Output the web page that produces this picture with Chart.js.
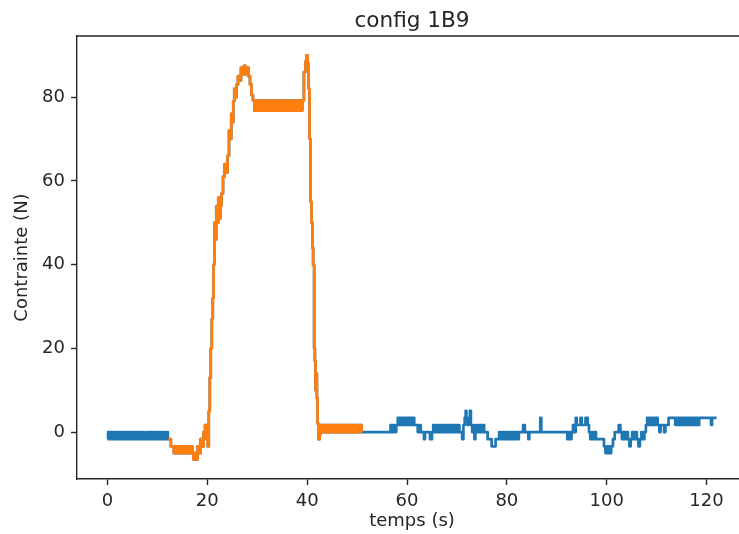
<!DOCTYPE html>
<html>
<head>
<meta charset="utf-8">
<script src="https://cdn.jsdelivr.net/npm/chart.js@4.4.1/dist/chart.umd.min.js"></script>
<style>
  html, body { margin: 0; padding: 0; background: #fff; overflow: hidden; }
</style>
</head>
<body>
<canvas id="chart" width="739" height="534"></canvas>
<script>
// Relevé de la contrainte : [temps (s), contrainte (N)]
// début (repos), appui (partie en orange), fin (repos)
const debut = [
  [0, -1.7], [0.25, 0], [0.5, -1.7], [0.75, 0], [1, -1.7], [1.25, 0], [1.5, -1.7], [1.75, 0],
  [2, -1.7], [2.25, 0], [2.5, -1.7], [2.75, 0], [3, -1.7], [3.25, 0], [3.5, -1.7], [3.75, 0],
  [4, -1.7], [4.25, 0], [4.5, -1.7], [4.75, 0], [5, -1.7], [5.25, 0], [5.5, -1.7], [5.75, 0],
  [6, -1.7], [6.25, 0], [6.5, -1.7], [6.75, 0], [7, -1.7], [7.25, 0], [7.5, -1.7], [7.75, -1.7],
  [8, 0], [8.25, -1.7], [8.5, 0], [8.75, -1.7], [9, 0], [9.25, -1.7], [9.5, 0], [9.75, -1.7],
  [10, 0], [10.25, -1.7], [10.5, 0], [10.75, -1.7], [11, 0], [11.25, -1.7], [11.5, 0],
  [11.75, -1.7], [12, 0], [12.2, -1.7]
];
const appui = [
  [12.2, -1.7], [12.6, -1.7], [12.8, -3.4], [13.2, -3.4],
  [13.4, -5], [13.65, -3.4], [13.9, -5], [14.15, -3.4], [14.4, -5], [14.65, -5], [14.9, -3.4],
  [15.15, -5], [15.4, -3.4], [15.65, -5], [15.9, -3.4], [16.15, -5], [16.4, -3.4], [16.65, -5],
  [16.9, -3.4], [17.1, -5],
  [17.3, -6.5], [17.6, -5], [17.9, -6.5], [18.2, -3.4], [18.5, -5], [18.8, -1.7], [19.1, -3.4],
  [19.4, 0], [19.7, 1.7], [20, -1.7], [20.2, -3.4], [20.4, 5], [20.6, 13], [20.8, 20],
  [21, 27], [21.2, 32], [21.35, 40], [21.5, 50], [21.7, 46], [21.9, 54], [22.1, 50], [22.3, 56],
  [22.5, 51], [22.7, 54], [23, 57], [23.3, 61], [23.6, 64], [23.9, 62], [24.2, 66], [24.5, 72],
  [24.7, 70], [24.9, 76], [25.1, 74], [25.3, 79], [25.5, 82], [25.7, 80], [26, 83], [26.3, 85],
  [26.6, 84], [26.9, 87], [27.2, 85.5], [27.5, 87.5], [27.8, 85.5], [28.1, 87], [28.4, 85],
  [28.7, 83], [29, 80.5], [29.3, 79.2],
  [29.6, 76.8], [29.85, 79.2], [30.1, 76.8], [30.35, 79.2], [30.6, 76.8], [30.85, 79.2],
  [31.1, 76.8], [31.35, 79.2], [31.6, 76.8], [31.85, 79.2], [32.1, 76.8], [32.35, 79.2],
  [32.6, 76.8], [32.85, 79.2], [33.1, 76.8], [33.35, 79.2], [33.6, 76.8], [33.85, 79.2],
  [34.1, 76.8], [34.35, 79.2], [34.6, 76.8], [34.85, 79.2], [35.1, 76.8], [35.35, 79.2],
  [35.6, 76.8], [35.85, 79.2], [36.1, 76.8], [36.35, 79.2], [36.6, 76.8], [36.85, 79.2],
  [37.1, 79.2], [37.35, 76.8], [37.6, 79.2], [37.85, 76.8], [38.1, 79.2], [38.35, 76.8],
  [38.6, 79.2], [38.85, 76.8], [39.2, 79.2],
  [39.5, 86], [39.8, 88.5], [40, 90], [40.2, 88], [40.4, 82], [40.6, 70], [40.8, 55], [41, 50],
  [41.1, 44], [41.3, 40], [41.5, 20], [41.6, 17], [41.75, 10], [41.9, 14], [42, 8], [42.2, 2],
  [42.4, -1.7], [42.6, -0.5], [42.8, 1.7],
  [43.05, 0], [43.3, 1.7], [43.55, 0], [43.8, 1.7], [44.05, 0], [44.3, 1.7], [44.55, 0],
  [44.8, 1.7], [45.05, 0], [45.3, 1.7], [45.55, 0], [45.8, 1.7], [46.05, 0], [46.3, 1.7],
  [46.55, 0], [46.8, 1.7], [47.05, 0], [47.3, 1.7], [47.55, 0], [47.8, 1.7], [48.05, 0],
  [48.3, 1.7], [48.55, 0], [48.8, 1.7], [49.05, 0], [49.3, 1.7], [49.55, 0], [49.8, 1.7],
  [50.05, 0], [50.3, 1.7], [50.55, 0], [50.8, 1.7], [51, 0]
];
const fin = [
  [51, 0], [56.6, 0], [56.8, 1.7], [57.1, 0], [57.4, 1.7], [57.7, 0], [58, 1.7],
  [58.3, 3.4], [58.55, 1.7], [58.8, 3.4], [59.05, 1.7], [59.3, 3.4], [59.55, 1.7], [59.8, 3.4],
  [60.05, 1.7], [60.3, 3.4], [60.55, 1.7], [60.8, 3.4], [61.05, 1.7], [61.3, 3.4], [61.6, 1.7],
  [62, 1.7], [62.3, 0], [62.6, 1.7], [62.9, 0], [63.3, 0], [63.5, -1.7], [63.7, 0], [64.5, 0],
  [64.7, -1.7], [64.9, -1.7], [65.1, 0],
  [65.4, 1.7], [65.65, 0], [65.9, 1.7], [66.15, 0], [66.4, 1.7], [66.65, 0], [66.9, 1.7],
  [67.15, 0], [67.4, 1.7], [67.65, 0], [67.9, 1.7], [68.15, 0], [68.4, 1.7], [68.65, 0],
  [68.9, 1.7], [69.15, 0], [69.4, 1.7], [69.65, 0], [69.9, 1.7], [70.15, 0], [70.4, 1.7],
  [70.6, 0], [70.9, 0], [71.2, -1.7],
  [71.4, 1.7], [71.7, 3.4], [71.8, 5.1], [72, 3.4], [72.2, 1.7], [72.5, 3.4], [72.7, 5.1],
  [72.9, 1.7], [73.2, 0], [73.4, 1.7], [73.6, -1.7], [73.8, 0], [74.1, 1.7], [74.4, 0], [74.7, 1.7],
  [75, 0], [75.3, 1.7], [75.6, 0], [76, 0], [76.3, -1.7], [76.8, -1.7], [77.1, -3.4], [77.6, -3.4],
  [77.9, -1.7], [78.3, -1.7], [78.6, 0], [79, -1.7], [79.4, 0], [79.8, -1.7], [80.2, 0],
  [80.6, -1.7], [81, 0], [81.4, -1.7], [81.8, 0], [82.2, -1.7], [82.6, 0], [83, 0], [83.5, 1.7],
  [83.7, 0], [84.2, 0], [84.4, -1.7], [84.6, 0], [86.6, 0], [86.8, 3.4], [87, 0], [92, 0],
  [92.2, -1.7], [92.5, 0], [92.8, -1.7], [93.1, 0], [93.4, 1.7], [93.7, 0], [93.9, 3.4],
  [94.1, 1.7], [94.6, 1.7], [94.9, 3.4], [95.1, 1.7], [95.6, 1.7], [95.9, 3.4], [96.1, 3.4],
  [96.3, 1.7], [96.6, 0], [96.8, -1.7], [97.1, 0], [97.4, -1.7], [97.7, 0], [98, -1.7],
  [98.4, -1.7], [98.8, -1.7], [99.3, -1.7], [99.6, -3.4], [99.9, -5], [100.3, -3.4], [100.7, -5],
  [101.1, -3.4], [101.4, -1.7], [101.8, 0], [102.2, 0], [102.6, 1.7], [102.9, 0], [103.2, -1.7],
  [103.5, 0], [103.8, -1.7], [104.1, 0], [104.4, -1.7], [104.7, -3.4], [104.9, -1.7], [105.3, 0],
  [105.6, -1.7], [105.9, 0], [106.2, -1.7], [106.5, -3.4], [106.8, -1.7], [107.1, 0],
  [107.4, -1.7], [107.7, 0], [108, 1.7], [108.2, 3.4], [108.5, 1.7], [108.8, 3.4], [109.1, 1.7],
  [109.4, 3.4], [109.7, 1.7], [110, 3.4], [110.4, 1.7], [110.7, 0], [110.9, 1.7], [111.4, 1.7],
  [111.6, 0], [111.9, 1.7], [112.3, 1.7], [112.5, 3.4],
  [113.6, 3.4], [113.85, 1.7], [114.1, 3.4], [114.35, 1.7], [114.6, 3.4], [114.85, 1.7],
  [115.1, 3.4], [115.35, 1.7], [115.6, 3.4], [115.85, 1.7], [116.1, 3.4], [116.35, 1.7],
  [116.6, 3.4], [116.85, 1.7], [117.1, 3.4], [117.35, 1.7], [117.6, 3.4], [117.85, 1.7],
  [118.1, 3.4], [118.35, 1.7], [118.7, 3.4],
  [120.8, 3.4], [121, 1.7], [121.2, 3.4], [122, 3.4]
];

const xTicks = [0, 20, 40, 60, 80, 100, 120];
const yTicks = [0, 20, 40, 60, 80];

// the original axes run from -6.1 to 128.1 s, the picture is cut at ~126.5 s
const X_MID = 61;

const toXY = pts => pts.map(([t, f]) => ({ x: t, y: f }));

const FONT = "DejaVu Sans";
const INK = "#262626";

// titre, libellé de l'axe x et bord haut (style matplotlib)
const frame = {
  id: "frame",
  afterDraw(chart) {
    const { ctx, chartArea: a } = chart;
    const cx = chart.scales.x.getPixelForValue(X_MID);
    ctx.save();
    ctx.strokeStyle = INK;
    ctx.lineWidth = 1.4;
    ctx.beginPath();
    ctx.moveTo(a.left, a.top);
    ctx.lineTo(a.right, a.top);
    ctx.stroke();
    ctx.fillStyle = INK;
    ctx.textAlign = "center";
    ctx.font = "21.6px '" + FONT + "'";
    ctx.textBaseline = "alphabetic";
    ctx.fillText("config 1B9", cx, 27);
    ctx.font = "18px '" + FONT + "'";
    ctx.textBaseline = "middle";
    ctx.fillText("temps (s)", cx, 521);
    ctx.restore();
  }
};

new Chart(document.getElementById("chart"), {
  type: "line",
  data: {
    datasets: [
      {
        data: toXY(debut.concat(appui, fin)),
        borderColor: "#1f77b4",
        order: 1
      },
      {
        data: toXY(appui),
        borderColor: "#ff7f0e",
        order: 0
      }
    ]
  },
  options: {
    responsive: false,
    animation: false,
    parsing: false,
    layout: { padding: { top: 36, right: 0, left: 0, bottom: 0 } },
    elements: {
      point: { radius: 0 },
      line: { borderWidth: 2.7, tension: 0, stepped: "middle", borderJoinStyle: "round", fill: false }
    },
    plugins: { legend: { display: false }, tooltip: { enabled: false }, title: { display: false } },
    scales: {
      x: {
        type: "linear",
        min: -6.1,
        max: 126.5,
        afterBuildTicks: s => { s.ticks = xTicks.map(v => ({ value: v })); },
        afterFit: s => { s.height = 55; },
        grid: { drawOnChartArea: false, tickLength: 6, tickColor: INK, tickWidth: 1.4 },
        border: { display: true, color: INK, width: 1.4 },
        ticks: { color: INK, padding: 6, maxRotation: 0, font: { family: FONT, size: 18 } },
        title: { display: false }
      },
      y: {
        type: "linear",
        min: -11.2,
        max: 94.6,
        afterBuildTicks: s => { s.ticks = yTicks.map(v => ({ value: v })); },
        afterFit: s => { s.width = 77; },
        grid: { drawOnChartArea: false, tickLength: 6, tickColor: INK, tickWidth: 1.4 },
        border: { display: true, color: INK, width: 1.4 },
        ticks: { color: INK, padding: 6, font: { family: FONT, size: 18 } },
        title: { display: true, text: "Contrainte (N)", color: INK, padding: { top: 12, bottom: 0 },
                 font: { family: FONT, size: 18 } }
      }
    }
  },
  plugins: [frame]
});
</script>
</body>
</html>
